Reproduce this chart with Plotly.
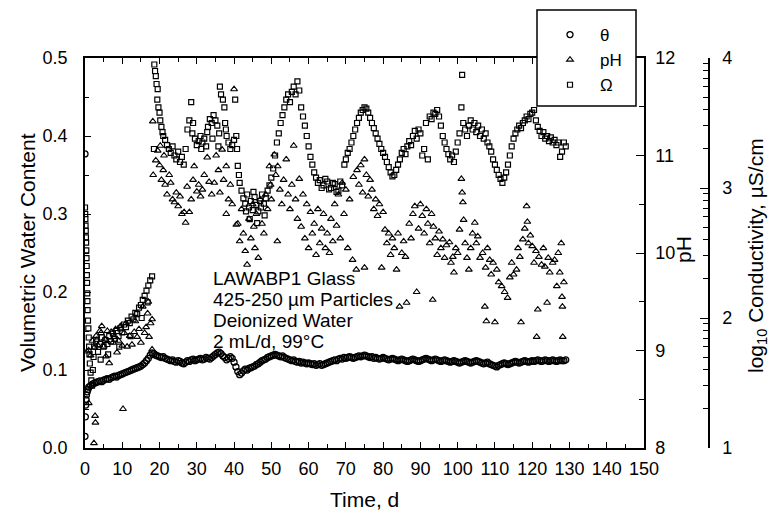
import plotly.graph_objects as go

# ---------------- data ----------------
# volumetric water content (theta): early points, then half-day readings from day 1 to 129
theta_early_day = [0, 0, 0.1, 0.2, 0.3, 0.4, 0.6, 0.8]
theta_early = [0.377, 0.015, 0.040, 0.055, 0.062, 0.068, 0.072, 0.075]
theta_main = [
    0.078, 0.080, 0.082, 0.083, 0.084, 0.085, 0.086, 0.085, 0.087,
    0.088, 0.089, 0.088, 0.090, 0.091, 0.092, 0.091, 0.093, 0.094, 0.095,
    0.096, 0.097, 0.098, 0.099, 0.100, 0.101, 0.102, 0.103, 0.104, 0.105,
    0.107, 0.109, 0.112, 0.115, 0.119, 0.122, 0.121, 0.119, 0.118, 0.117,
    0.116, 0.117, 0.115, 0.114, 0.113, 0.112, 0.113, 0.111, 0.110, 0.112,
    0.111, 0.109, 0.108, 0.110, 0.112, 0.111, 0.113, 0.114, 0.112, 0.113,
    0.114, 0.115, 0.113, 0.114, 0.116, 0.115, 0.114, 0.116, 0.118, 0.120,
    0.122, 0.123, 0.121, 0.118, 0.116, 0.113, 0.115, 0.117, 0.115, 0.110,
    0.104, 0.098, 0.094, 0.096, 0.099, 0.101, 0.100, 0.102, 0.103, 0.104,
    0.105, 0.107, 0.108, 0.110, 0.112, 0.113, 0.114, 0.116, 0.117, 0.118,
    0.119, 0.120, 0.119, 0.118, 0.117, 0.118, 0.116, 0.115, 0.114, 0.113,
    0.112, 0.113, 0.111, 0.110, 0.111, 0.109, 0.110, 0.109, 0.108, 0.109,
    0.108, 0.107, 0.108, 0.106, 0.107, 0.108, 0.106, 0.107, 0.108, 0.109,
    0.110, 0.111, 0.112, 0.113, 0.112, 0.114, 0.115, 0.114, 0.116, 0.115,
    0.116, 0.117, 0.116, 0.115, 0.116, 0.117, 0.118, 0.117, 0.118, 0.119,
    0.118, 0.117, 0.116, 0.117, 0.115, 0.116, 0.115, 0.114, 0.115, 0.116,
    0.115, 0.114, 0.113, 0.114, 0.115, 0.114, 0.113, 0.112, 0.113, 0.114,
    0.113, 0.112, 0.111, 0.112, 0.113, 0.114, 0.113, 0.112, 0.111, 0.112,
    0.113, 0.114, 0.115, 0.114, 0.113, 0.112, 0.113, 0.114, 0.113, 0.112,
    0.111, 0.112, 0.113, 0.112, 0.111, 0.110, 0.111, 0.112, 0.111, 0.110,
    0.109, 0.110, 0.111, 0.112, 0.111, 0.110, 0.109, 0.110, 0.111, 0.112,
    0.111, 0.110, 0.109, 0.108, 0.109, 0.110, 0.108, 0.107, 0.106, 0.105,
    0.104, 0.106, 0.107, 0.108, 0.109, 0.108, 0.107, 0.108, 0.109, 0.110,
    0.111, 0.110, 0.109, 0.110, 0.111, 0.112, 0.111, 0.110, 0.111, 0.112,
    0.111, 0.112, 0.113, 0.112, 0.111, 0.112, 0.113, 0.112, 0.111, 0.112,
    0.113, 0.112, 0.111, 0.112, 0.113, 0.112, 0.112, 0.113,
]
theta_main_day = [1 + 0.5 * i for i in range(len(theta_main))]

# pH readings (day, pH)
ph_points = [
    (0.5, 8.99), (1.0, 8.46), (2.4, 8.05), (2.7, 8.33), (2.8, 8.26), (10.2, 8.40),
    (1.0, 9.0), (1.5, 8.95), (2.0, 9.1), (2.5, 9.03), (3.0, 9.15), (3.2, 9.11), (3.5, 9.05),
    (4.0, 9.2), (4.3, 9.18), (4.5, 9.25), (5.0, 9.04), (5.3, 9.12), (5.6, 8.94), (6.0, 9.2),
    (6.5, 8.87), (7.0, 9.19), (7.5, 9.08), (7.8, 9.14), (8.2, 9.22), (8.6, 8.98), (9.0, 9.1),
    (9.5, 9.25), (10.0, 9.05), (10.5, 9.18), (11.0, 9.28), (11.3, 9.04), (12.0, 9.15),
    (12.6, 9.06), (13.2, 9.19), (13.5, 9.3), (14.0, 9.14), (14.5, 9.22), (15.0, 9.08),
    (15.5, 9.45), (16.0, 9.18), (16.4, 9.24), (16.8, 9.38), (17.0, 9.5), (17.2, 9.14),
    (17.6, 9.28), (18.0, 9.32), (18.0, 9.01),
    (18.2, 11.35), (18.3, 10.8), (19.0, 10.95), (19.5, 11.05), (20.0, 10.9), (20.2, 11.1),
    (20.5, 10.75), (21.0, 10.85), (21.2, 11.0), (21.5, 10.7), (22.0, 10.6), (22.6, 10.8),
    (23.0, 10.72), (23.5, 10.55), (24.0, 10.52), (24.5, 10.62), (25.0, 10.48), (25.5, 10.58),
    (26.0, 10.4), (26.6, 10.42), (27.0, 10.31), (27.4, 10.68), (28.0, 10.42), (28.5, 10.55),
    (29.0, 10.75), (29.3, 10.89), (30.0, 10.63), (30.5, 10.7), (31.0, 10.58), (31.5, 10.65),
    (32.0, 10.8), (32.8, 10.98), (33.3, 10.73), (34.0, 10.6), (34.7, 10.72), (35.2, 11.0),
    (35.8, 10.85), (36.2, 10.62), (36.8, 11.06), (37.2, 10.75), (37.9, 10.89), (37.9, 10.4),
    (38.5, 10.55), (39.0, 10.7), (39.5, 10.5), (40.0, 11.68), (40.6, 10.29),
    (41.0, 10.3), (41.5, 10.12), (42.0, 10.45), (42.5, 10.2), (43.0, 10.02), (43.5, 9.88),
    (44.0, 10.35), (44.5, 10.15), (45.0, 10.5), (45.3, 10.27), (45.6, 10.05), (46.0, 10.4),
    (46.5, 9.95), (47.0, 10.55), (47.5, 10.3), (48.0, 10.2), (48.5, 10.6), (49.0, 10.45),
    (49.5, 10.89), (49.8, 10.7), (50.0, 10.55),
    (50.8, 11.01), (51.2, 10.8), (51.6, 10.12), (51.7, 10.89), (52.3, 10.65), (52.8, 10.5),
    (53.3, 10.75), (54.0, 10.96), (54.5, 10.6), (55.0, 10.45), (55.5, 10.7), (56.0, 11.1),
    (56.5, 10.55), (57.0, 10.35), (57.5, 10.76), (58.0, 10.27), (58.5, 10.6), (59.0, 10.15),
    (59.5, 10.5), (60.0, 10.05), (60.5, 10.42), (61.0, 10.2), (61.5, 10.3), (62.0, 9.98),
    (62.5, 10.45), (63.0, 10.1), (63.5, 10.25), (64.0, 10.4), (64.5, 10.05), (65.0, 10.2),
    (65.6, 10.0), (66.0, 10.35), (66.5, 10.12), (67.0, 10.5), (67.5, 10.28), (68.0, 10.6),
    (68.5, 10.15), (69.0, 10.72), (69.5, 10.4), (70.0, 10.65), (70.5, 10.05), (71.0, 10.55),
    (71.8, 9.93), (72.0, 10.78), (72.8, 9.83),
    (73.0, 10.85), (73.5, 10.7), (74.0, 10.9), (74.5, 10.62), (75.0, 10.96), (75.0, 9.85),
    (75.5, 10.8), (76.0, 10.58), (76.5, 10.75), (77.0, 10.65), (77.5, 10.45), (78.0, 10.55),
    (78.5, 10.38), (79.0, 10.5), (79.6, 9.85), (80.0, 10.42), (80.5, 10.24), (81.0, 10.1),
    (81.5, 10.2), (82.0, 9.98), (82.5, 10.15), (83.0, 10.05), (83.6, 9.83), (84.0, 10.2),
    (84.4, 9.45), (85.0, 10.0), (85.5, 10.12), (86.0, 9.96), (86.3, 9.49), (87.0, 10.3),
    (87.5, 10.15), (88.0, 10.4), (88.5, 10.48), (89.0, 9.6), (89.5, 10.25), (90.0, 10.5),
    (90.5, 10.38), (91.0, 10.2), (91.6, 10.45), (92.0, 10.3), (92.5, 10.1), (93.0, 10.4),
    (93.3, 9.52), (93.5, 10.27), (94.0, 10.15), (94.5, 9.98), (95.0, 10.22), (95.5, 10.05),
    (96.0, 10.14), (96.5, 9.95), (97.0, 10.08), (97.8, 10.11), (98.2, 9.9), (98.7, 9.96),
    (99.0, 9.8), (99.5, 10.05), (100.0, 10.0), (100.5, 10.24), (101.0, 10.76), (101.2, 10.62),
    (101.4, 10.52), (101.6, 10.34),
    (102.0, 10.1), (102.5, 9.95), (103.0, 9.83), (103.5, 10.05), (104.0, 10.2), (104.6, 10.31),
    (105.0, 10.1), (105.4, 10.17), (106.0, 9.95), (106.7, 10.0), (107.3, 9.45), (107.5, 9.85),
    (107.7, 9.3), (108.0, 10.05), (108.6, 9.93), (109.0, 9.78), (109.5, 9.9), (110.0, 9.29),
    (110.5, 9.83), (111.0, 9.7), (111.8, 9.66), (112.6, 9.6), (113.4, 9.54), (114.0, 9.75),
    (114.5, 9.9), (115.0, 9.78), (115.8, 9.83), (116.2, 10.05), (116.7, 9.96), (117.0, 9.29),
    (117.5, 10.14), (118.0, 10.25), (118.5, 10.48), (118.7, 10.32), (119.0, 10.1), (119.5, 10.18),
    (120.0, 10.07), (120.5, 9.9), (121.0, 10.02), (121.2, 9.14), (121.5, 9.42), (121.8, 9.96),
    (122.5, 9.88), (123.0, 10.05), (123.4, 9.86), (124.0, 9.49), (124.3, 9.95), (124.7, 9.8),
    (125.5, 9.9), (126.0, 9.93), (126.6, 9.66), (127.0, 10.0), (127.4, 9.8), (127.8, 10.1),
    (128.0, 9.55), (128.1, 9.45), (128.2, 9.14), (128.5, 9.7),
]
ph_day = [p[0] for p in ph_points]
ph_val = [p[1] for p in ph_points]

# conductivity readings (day, log10 conductivity)
omega_points = [
    (0.0, 2.85), (0.05, 2.80), (0.1, 2.76), (0.15, 2.71), (0.2, 2.67), (0.25, 2.62), (0.3, 2.58),
    (0.35, 2.52), (0.4, 2.46), (0.45, 2.40), (0.5, 2.33), (0.55, 2.27), (0.6, 2.19), (0.65, 2.13),
    (0.7, 2.06), (0.8, 1.98), (0.9, 1.92), (1.0, 1.85), (1.1, 1.78), (1.2, 1.72), (1.3, 1.65),
    (1.5, 1.58), (1.7, 1.52), (1.9, 1.48), (2.1, 1.60), (2.3, 1.70),
    (2.5, 1.78), (3.0, 1.82), (3.5, 1.74), (4.0, 1.80), (4.5, 1.85), (5.0, 1.78), (5.5, 1.83),
    (6.0, 1.80), (6.5, 1.86), (7.0, 1.82), (7.5, 1.88), (8.0, 1.84), (8.5, 1.90), (9.0, 1.86),
    (9.5, 1.92), (10.0, 1.89), (10.5, 1.95), (11.0, 1.93), (11.5, 1.98), (12.0, 1.96),
    (12.5, 2.01), (13.0, 1.99), (13.5, 2.04), (14.0, 2.03), (14.5, 2.08), (15.0, 2.10),
    (15.5, 2.14), (16.0, 2.17), (16.5, 2.21), (17.0, 2.25), (17.5, 2.29), (18.0, 2.32),
    (4.2, 1.68), (6.2, 1.72), (9.2, 1.78), (12.2, 1.86), (15.2, 2.00), (16.8, 2.12),
    (18.5, 3.30), (18.6, 3.95), (18.8, 3.90), (19.0, 3.86), (19.2, 3.80), (19.4, 3.68),
    (19.5, 3.76), (19.7, 3.62), (20.0, 3.58), (20.2, 3.52), (20.5, 3.47), (20.8, 3.43),
    (21.0, 3.40), (21.5, 3.37), (22.0, 3.33), (22.5, 3.30), (23.0, 3.27), (23.5, 3.32),
    (24.0, 3.25), (24.5, 3.22), (25.0, 3.28), (25.5, 3.20), (26.0, 3.24), (26.5, 3.18),
    (27.0, 3.30), (27.5, 3.45), (28.0, 3.52), (28.5, 3.66), (28.8, 3.42), (29.0, 3.50),
    (29.5, 3.38), (30.0, 3.33), (30.5, 3.36), (31.0, 3.40), (31.5, 3.35), (32.0, 3.38),
    (32.5, 3.32), (33.0, 3.47), (33.5, 3.53), (34.0, 3.50), (34.5, 3.56), (35.0, 3.52),
    (35.5, 3.48), (36.0, 3.42), (36.2, 3.78), (36.5, 3.72), (37.0, 3.68), (37.4, 3.62),
    (37.6, 3.50), (37.8, 3.45), (38.0, 3.40), (38.5, 3.35), (39.0, 3.30), (39.5, 3.33),
    (40.0, 3.37), (40.3, 3.68), (40.6, 3.40), (40.8, 3.30), (41.0, 3.17), (41.3, 3.10),
    (41.5, 3.04), (31.2, 3.30), (32.8, 3.43), (34.2, 3.38), (35.8, 3.32),
    (42.0, 2.98), (42.5, 2.92), (43.0, 2.88), (43.5, 2.95), (44.0, 2.85), (44.5, 2.90),
    (45.0, 2.83), (45.5, 2.93), (46.0, 2.87), (46.5, 2.82), (47.0, 2.90), (47.5, 2.95),
    (48.0, 2.88), (48.5, 2.92), (49.0, 2.98), (49.5, 3.02), (50.0, 3.08), (44.2, 2.76),
    (46.2, 2.73), (48.2, 2.79), (43.2, 2.82), (45.2, 2.97), (47.2, 2.85),
    (50.5, 3.15), (51.0, 3.25), (51.5, 3.35), (52.0, 3.42), (52.5, 3.50), (53.0, 3.56),
    (53.5, 3.62), (54.0, 3.68), (54.5, 3.72), (55.0, 3.66), (55.5, 3.74), (56.0, 3.78),
    (56.5, 3.72), (57.0, 3.82), (57.5, 3.75), (58.0, 3.62), (58.5, 3.55), (59.0, 3.48),
    (59.5, 3.40), (60.0, 3.32), (60.5, 3.24), (61.0, 3.18), (61.5, 3.12), (62.0, 3.08),
    (62.5, 3.04), (63.0, 3.06), (64.0, 3.02), (65.0, 3.05), (66.0, 3.00), (67.0, 3.03),
    (68.0, 2.98), (69.0, 3.02), (63.5, 3.00), (64.5, 3.07), (65.5, 2.99), (66.5, 3.04),
    (67.5, 2.97), (68.5, 3.05),
    (69.6, 3.18), (70.0, 3.22), (70.5, 3.27), (71.0, 3.30), (71.5, 3.35), (72.0, 3.40),
    (72.5, 3.45), (73.0, 3.50), (73.5, 3.54), (74.0, 3.58), (74.5, 3.60), (75.0, 3.62),
    (75.5, 3.61), (76.0, 3.58), (76.5, 3.54), (77.0, 3.50), (77.5, 3.46), (78.0, 3.42),
    (78.5, 3.38), (79.0, 3.34), (79.5, 3.30), (80.0, 3.27), (80.5, 3.24), (81.0, 3.20),
    (81.5, 3.16), (82.0, 3.12), (82.5, 3.09), (83.0, 3.10), (83.5, 3.14), (84.0, 3.18),
    (84.5, 3.22), (85.0, 3.27), (85.5, 3.30), (86.0, 3.26), (86.5, 3.32), (87.0, 3.36),
    (87.5, 3.33), (88.0, 3.40), (88.5, 3.44), (89.0, 3.38), (89.5, 3.45), (90.0, 3.42),
    (90.5, 3.25), (91.0, 3.30), (91.5, 3.50), (92.0, 3.22), (92.5, 3.55), (93.0, 3.53),
    (93.5, 3.58), (94.0, 3.57), (94.5, 3.60), (95.0, 3.55), (95.5, 3.48), (96.0, 3.40),
    (96.5, 3.35), (97.0, 3.30), (97.5, 3.26), (98.0, 3.22), (98.5, 3.25), (99.0, 3.20),
    (99.5, 3.28), (100.0, 3.35), (100.5, 3.42), (101.0, 3.62), (101.2, 3.87), (101.5, 3.50),
    (102.0, 3.45), (102.5, 3.40), (103.0, 3.48), (103.5, 3.52), (104.0, 3.45), (104.5, 3.50),
    (105.0, 3.43), (105.5, 3.48), (106.0, 3.40), (106.5, 3.45), (107.0, 3.38), (107.5, 3.42),
    (108.0, 3.35), (108.5, 3.32), (109.0, 3.28), (109.5, 3.22), (110.0, 3.18), (110.5, 3.14),
    (111.0, 3.10), (111.5, 3.07), (112.0, 3.04), (112.5, 3.08), (113.0, 3.12), (113.5, 3.18),
    (114.0, 3.25), (114.5, 3.32), (115.0, 3.38), (115.5, 3.42), (116.0, 3.45), (116.5, 3.48),
    (117.0, 3.46), (117.5, 3.50), (118.0, 3.52), (118.5, 3.55), (119.0, 3.53), (119.5, 3.57),
    (120.0, 3.58), (120.5, 3.60), (121.0, 3.52), (121.5, 3.47), (122.0, 3.44), (122.5, 3.40),
    (123.0, 3.43), (123.5, 3.38), (124.0, 3.40), (124.5, 3.36), (125.0, 3.39), (125.5, 3.35),
    (126.0, 3.37), (126.5, 3.33), (127.0, 3.35), (127.5, 3.24), (128.0, 3.28), (128.5, 3.35),
    (129.0, 3.32),
]
omega_day = [p[0] for p in omega_points]
omega_val = [p[1] for p in omega_points]

x_ticks = list(range(0, 151, 10))
x_minor = list(range(5, 150, 10))
theta_ticks = [0.0, 0.1, 0.2, 0.3, 0.4, 0.5]
theta_minor = [0.05, 0.15, 0.25, 0.35, 0.45]
ph_ticks = [8, 9, 10, 11, 12]
ph_minor = [8.5, 9.5, 10.5, 11.5]
cond_ticks = [1, 2, 3, 4]
cond_minor = [d + m for d in (1, 2, 3) for m in (0.30103, 0.47712, 0.60206, 0.69897, 0.77815, 0.84510, 0.90309, 0.95424)]

note_lines = ["LAWABP1 Glass", "425-250 µm Particles", "Deionized Water", "2 mL/d, 99°C"]

# ---------------- figure ----------------
FONT = "Liberation Sans, Arial, Helvetica, sans-serif"
BLACK = "#000000"

fig = go.Figure()
fig.add_trace(go.Scatter(
    x=theta_early_day + theta_main_day, y=theta_early + theta_main, mode="markers", name="θ",
    marker=dict(symbol="circle-open", size=6, color=BLACK, line=dict(width=1.3, color=BLACK)),
    yaxis="y"))
fig.add_trace(go.Scatter(
    x=ph_day, y=ph_val, mode="markers", name="pH",
    marker=dict(symbol="triangle-up-open", size=6, color=BLACK, line=dict(width=1.1, color=BLACK)),
    yaxis="y2"))
fig.add_trace(go.Scatter(
    x=omega_day, y=omega_val, mode="markers", name="Ω",
    marker=dict(symbol="square-open", size=5, color=BLACK, line=dict(width=1.2, color=BLACK)),
    yaxis="y3"))

ML, MR, MT, MB = 85, 61, 58, 72
W, H = 770, 520
PW, PH = W - ML - MR, H - MT - MB
xdom_end = (644 - ML) / PW

def px(xp):
    return (xp - ML) / PW

def py(yp):
    return (H - MB - yp) / PH

tickfont = dict(family=FONT, size=18, color=BLACK)
titlefont = dict(family=FONT, size=21, color=BLACK)

fig.update_layout(
    width=W, height=H, margin=dict(l=ML, r=MR, t=MT, b=MB),
    paper_bgcolor="white", plot_bgcolor="white",
    font=dict(family=FONT, color=BLACK),
    showlegend=True,
    legend=dict(x=px(540), y=py(17), xanchor="left", yanchor="top",
                bgcolor="rgba(0,0,0,0)", borderwidth=0, itemwidth=50,
                font=dict(family=FONT, size=17, color=BLACK)),
    xaxis=dict(domain=[0, xdom_end], range=[0, 150], tickvals=x_ticks,
               showline=True, linecolor=BLACK, linewidth=1.5, mirror="ticks",
               ticks="inside", ticklen=6, tickwidth=1, tickcolor=BLACK,
               minor=dict(tickmode="array", tickvals=x_minor, ticks="inside", ticklen=4,
                          tickwidth=1, tickcolor=BLACK),
               showgrid=False, zeroline=False, tickfont=tickfont, ticklabelstandoff=4),
    yaxis=dict(range=[0, 0.5], tickvals=theta_ticks, tickformat=".1f",
               showline=True, linecolor=BLACK, linewidth=1.5,
               ticks="inside", ticklen=6, tickwidth=1, tickcolor=BLACK,
               minor=dict(tickmode="array", tickvals=theta_minor, ticks="inside", ticklen=4,
                          tickwidth=1, tickcolor=BLACK),
               showgrid=False, zeroline=False, tickfont=tickfont, ticklabelstandoff=12),
    yaxis2=dict(range=[8, 12], tickvals=ph_ticks, overlaying="y", side="right", anchor="x",
                showline=True, linecolor=BLACK, linewidth=1.5,
                ticks="inside", ticklen=8, tickwidth=1, tickcolor=BLACK,
                minor=dict(tickmode="array", tickvals=ph_minor, ticks="inside", ticklen=5,
                           tickwidth=1, tickcolor=BLACK),
                showgrid=False, zeroline=False, tickfont=tickfont, ticklabelstandoff=6),
    yaxis3=dict(range=[1, 4], tickvals=cond_ticks, overlaying="y", side="right",
                anchor="free", position=1.0,
                showline=True, linecolor=BLACK, linewidth=1.5,
                ticks="inside", ticklen=8, tickwidth=1, tickcolor=BLACK,
                minor=dict(tickmode="array", tickvals=cond_minor, ticks="inside", ticklen=5,
                           tickwidth=1, tickcolor=BLACK),
                showgrid=False, zeroline=False, tickfont=tickfont, ticklabelstandoff=9),
)

# legend frame
fig.add_shape(type="rect", xref="paper", yref="paper",
              x0=px(537), x1=px(636), y0=py(106), y1=py(10),
              line=dict(color=BLACK, width=1.5), fillcolor="white", layer="above")

# axis titles
fig.add_annotation(text="Volumetric Water Content", xref="paper", yref="paper",
                   x=px(27), y=py(253), textangle=-90, showarrow=False, font=titlefont,
                   xanchor="center", yanchor="middle")
fig.add_annotation(text="Time, d", xref="paper", yref="paper",
                   x=px(364), y=py(499), showarrow=False, font=titlefont,
                   xanchor="center", yanchor="middle")
fig.add_annotation(text="pH", xref="paper", yref="paper",
                   x=px(683), y=py(250), textangle=-90, showarrow=False, font=titlefont,
                   xanchor="center", yanchor="middle")
fig.add_annotation(text="log<sub>10</sub> Conductivity, µS/cm", xref="paper", yref="paper",
                   x=px(757), y=py(256), textangle=-90, showarrow=False, font=titlefont,
                   xanchor="center", yanchor="middle")

# experiment note
for i, line in enumerate(note_lines):
    fig.add_annotation(text=line, xref="paper", yref="paper",
                       x=px(211), y=py(278 + 21 * i), showarrow=False,
                       font=dict(family=FONT, size=19, color=BLACK),
                       xanchor="left", yanchor="middle")

fig.write_html("out.html")
